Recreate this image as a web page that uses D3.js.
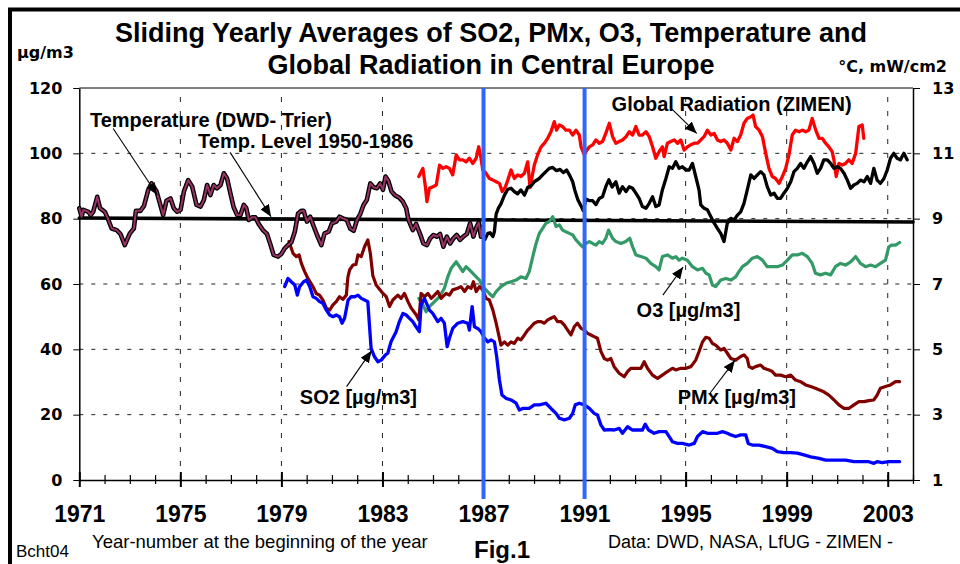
<!DOCTYPE html>
<html lang="en">
<head>
<meta charset="UTF-8">
<title>Sliding Yearly Averages of SO2, PMx, O3, Temperature and Global Radiation</title>
<script src="https://cdn.jsdelivr.net/npm/d3@7"></script>
<style>
  body { margin: 0; background: #fff; }
  svg { display: block; font-family: 'Liberation Sans', Arial, sans-serif; }
  .wide { font-family: 'DejaVu Sans', Verdana, sans-serif; font-weight: bold; font-size: 16px; }
  .note { font-weight: bold; font-size: 20px; }
  .axis path, .axis line { stroke: #000; }
</style>
</head>
<body>
<svg id="chart" width="960" height="564"></svg>
<script>
// temperature (°C, right axis), DWD Trier until 1987
const tempEarly = [[1971.0,9.32],[1971.09,9.06],[1971.16,9.27],[1971.36,9.21],[1971.45,9.11],[1971.55,9.21],[1971.71,9.67],[1971.82,9.32],[1972.01,9.21],[1972.11,9.04],[1972.28,8.70],[1972.48,8.65],[1972.63,8.53],[1972.80,8.19],[1973.00,8.55],[1973.16,8.70],[1973.24,9.24],[1973.42,9.24],[1973.56,9.39],[1973.73,9.88],[1973.86,10.08],[1974.06,9.83],[1974.32,9.11],[1974.45,9.55],[1974.61,9.62],[1974.74,9.32],[1974.87,9.21],[1975.01,9.27],[1975.14,9.83],[1975.31,10.18],[1975.47,9.98],[1975.64,9.42],[1975.80,9.37],[1975.93,9.57],[1976.06,10.03],[1976.19,9.72],[1976.32,10.03],[1976.45,9.93],[1976.59,10.03],[1976.72,10.39],[1976.85,10.23],[1976.98,9.78],[1977.11,9.35],[1977.25,9.11],[1977.38,9.11],[1977.51,9.42],[1977.61,9.32],[1977.71,8.96],[1977.84,9.04],[1977.97,9.04],[1978.10,8.84],[1978.27,8.65],[1978.43,8.53],[1978.56,8.22],[1978.69,7.89],[1978.87,7.84],[1979.00,7.92],[1979.13,8.09],[1979.26,8.19],[1979.39,8.27],[1979.53,8.60],[1979.66,9.16],[1979.79,9.24],[1979.88,9.24],[1980.01,8.91],[1980.14,9.06],[1980.28,8.76],[1980.41,8.50],[1980.58,8.19],[1980.71,8.55],[1980.87,8.60],[1981.00,8.86],[1981.17,8.91],[1981.30,9.06],[1981.43,9.01],[1981.59,8.96],[1981.72,8.70],[1981.86,8.63],[1981.99,8.96],[1982.12,9.14],[1982.25,9.42],[1982.38,9.57],[1982.52,10.08],[1982.65,9.96],[1982.78,9.93],[1982.91,10.08],[1983.02,9.88],[1983.12,10.29],[1983.23,10.16],[1983.36,9.83],[1983.49,9.72],[1983.65,9.65],[1983.81,9.52],[1983.94,9.32],[1984.03,8.96],[1984.20,8.65],[1984.33,8.84],[1984.49,8.53],[1984.62,8.24],[1984.76,8.19],[1984.89,8.40],[1985.02,8.50],[1985.15,8.45],[1985.28,8.53],[1985.41,8.14],[1985.55,8.45],[1985.68,8.24],[1985.81,8.40],[1985.94,8.50],[1986.07,8.35],[1986.20,8.45],[1986.34,8.53],[1986.47,8.86],[1986.60,8.45],[1986.73,8.76],[1986.81,8.88],[1986.90,8.45],[1986.97,8.76]];

// temperature (°C) from 1987 on
const tempLate = [[1987.0,8.40],[1987.06,8.37],[1987.17,8.55],[1987.26,8.57],[1987.37,8.45],[1987.43,8.60],[1987.50,9.14],[1987.59,9.32],[1987.69,9.45],[1987.83,9.72],[1987.96,9.90],[1988.09,9.93],[1988.22,9.83],[1988.35,9.76],[1988.48,9.88],[1988.62,9.72],[1988.75,9.96],[1988.88,10.00],[1989.01,10.13],[1989.21,10.23],[1989.34,10.34],[1989.47,10.44],[1989.60,10.54],[1989.74,10.57],[1989.89,10.47],[1990.03,10.51],[1990.16,10.41],[1990.29,10.49],[1990.42,10.31],[1990.53,10.13],[1990.61,9.88],[1990.73,9.59],[1990.86,9.39],[1990.95,9.24],[1991.05,9.60],[1991.19,9.55],[1991.32,9.55],[1991.45,9.43],[1991.58,9.62],[1991.71,9.67],[1991.84,9.98],[1991.96,10.19],[1992.09,9.97],[1992.24,10.13],[1992.37,9.78],[1992.50,9.98],[1992.64,9.83],[1992.77,9.98],[1992.90,9.93],[1993.03,9.78],[1993.16,9.62],[1993.29,9.37],[1993.43,9.32],[1993.56,9.47],[1993.69,9.67],[1993.82,9.37],[1993.95,9.42],[1994.08,9.88],[1994.22,10.23],[1994.35,10.59],[1994.48,10.54],[1994.61,10.74],[1994.74,10.54],[1994.87,10.59],[1995.01,10.49],[1995.14,10.49],[1995.27,10.69],[1995.40,10.29],[1995.53,9.88],[1995.60,9.42],[1995.73,9.32],[1995.86,9.27],[1996.00,9.06],[1996.13,8.86],[1996.26,8.70],[1996.39,8.55],[1996.52,8.30],[1996.65,8.86],[1996.79,9.01],[1996.92,8.96],[1997.05,9.11],[1997.18,9.21],[1997.31,9.47],[1997.44,9.88],[1997.58,10.34],[1997.71,10.23],[1997.84,10.34],[1997.97,10.44],[1998.10,10.34],[1998.23,9.98],[1998.37,9.72],[1998.50,9.78],[1998.63,9.62],[1998.76,9.62],[1998.89,9.78],[1999.03,9.93],[1999.16,10.13],[1999.29,10.44],[1999.42,10.54],[1999.55,10.69],[1999.68,10.54],[1999.82,10.74],[1999.95,10.90],[2000.08,10.69],[2000.21,10.39],[2000.34,10.54],[2000.47,10.80],[2000.61,10.80],[2000.74,10.69],[2000.87,10.54],[2001.00,10.59],[2001.13,10.54],[2001.27,10.39],[2001.40,10.18],[2001.53,9.93],[2001.66,10.03],[2001.79,10.08],[2001.92,10.18],[2002.06,10.13],[2002.19,10.29],[2002.32,10.08],[2002.45,10.54],[2002.58,10.18],[2002.71,10.08],[2002.85,10.23],[2002.98,10.49],[2003.11,10.85],[2003.24,11.00],[2003.37,10.85],[2003.50,10.80],[2003.64,11.00],[2003.77,10.80]];

// temperature level 1950-1986 (°C)
const tempLevel = [[1971, 9.02], [2004, 8.90]];

// global radiation (mW/cm2, right axis)
const radiation = [[1984.44,10.29],[1984.60,10.54],[1984.70,9.98],[1984.76,9.52],[1984.86,9.93],[1985.00,9.98],[1985.13,10.03],[1985.26,10.64],[1985.39,10.54],[1985.52,10.59],[1985.65,10.54],[1985.78,10.34],[1985.92,10.95],[1986.05,10.80],[1986.18,10.80],[1986.31,10.74],[1986.44,10.85],[1986.57,10.69],[1986.71,10.85],[1986.81,11.20],[1986.90,10.85],[1986.97,10.49],[1987.10,10.39],[1987.23,10.23],[1987.37,10.18],[1987.50,10.13],[1987.63,10.08],[1987.74,9.83],[1987.87,9.98],[1987.96,10.18],[1988.09,10.49],[1988.22,10.23],[1988.35,10.34],[1988.48,10.29],[1988.62,10.39],[1988.75,10.74],[1988.84,9.95],[1989.01,10.64],[1989.14,10.95],[1989.28,11.20],[1989.41,11.31],[1989.54,11.46],[1989.67,11.66],[1989.80,11.97],[1989.89,11.71],[1990.00,11.87],[1990.13,11.82],[1990.26,11.71],[1990.40,11.71],[1990.53,11.56],[1990.66,11.71],[1990.79,11.56],[1990.86,11.20],[1990.99,10.95],[1991.05,11.05],[1991.19,11.20],[1991.32,11.26],[1991.45,11.41],[1991.58,11.31],[1991.71,11.36],[1991.84,11.61],[1991.98,11.92],[1992.11,11.51],[1992.24,11.31],[1992.37,11.36],[1992.50,11.41],[1992.64,11.51],[1992.77,11.66],[1992.90,11.56],[1993.03,11.82],[1993.16,11.56],[1993.29,11.56],[1993.43,11.66],[1993.56,11.51],[1993.69,11.20],[1993.82,10.85],[1993.95,11.05],[1994.08,11.20],[1994.15,10.90],[1994.28,11.31],[1994.41,11.36],[1994.55,11.41],[1994.68,11.31],[1994.81,11.41],[1994.94,11.10],[1995.07,11.20],[1995.20,11.26],[1995.34,11.31],[1995.47,11.31],[1995.60,11.41],[1995.73,11.51],[1995.86,11.71],[1996.00,11.56],[1996.13,11.61],[1996.26,11.41],[1996.39,11.36],[1996.52,11.41],[1996.65,11.31],[1996.79,11.10],[1996.92,11.46],[1997.05,11.36],[1997.18,11.56],[1997.31,11.92],[1997.44,12.07],[1997.58,12.12],[1997.67,12.17],[1997.77,11.82],[1997.91,11.71],[1998.04,11.51],[1998.17,11.00],[1998.30,10.54],[1998.43,10.29],[1998.56,10.23],[1998.70,10.08],[1998.83,10.29],[1998.96,10.54],[1999.09,10.95],[1999.22,11.56],[1999.35,11.71],[1999.49,11.66],[1999.62,11.71],[1999.75,11.66],[1999.88,11.71],[2000.01,12.07],[2000.15,11.71],[2000.28,11.46],[2000.41,11.46],[2000.54,11.31],[2000.67,11.20],[2000.80,11.05],[2000.87,10.80],[2000.96,10.29],[2001.07,10.69],[2001.20,10.64],[2001.33,10.69],[2001.46,10.80],[2001.59,10.69],[2001.73,11.00],[2001.86,11.82],[2001.99,11.87],[2002.05,11.46]];

// O3 (µg/m3, left axis)
const o3 = [[1984.44,55.6],[1984.60,53.6],[1984.73,51.5],[1984.86,53.1],[1985.06,54.6],[1985.26,56.1],[1985.45,58.7],[1985.60,62.5],[1985.72,64.8],[1985.92,66.8],[1986.05,65.3],[1986.18,63.8],[1986.31,65.3],[1986.44,64.3],[1986.57,63.3],[1986.71,62.2],[1986.84,61.2],[1986.97,59.2],[1987.10,58.2],[1987.23,57.1],[1987.37,56.1],[1987.50,57.7],[1987.69,59.2],[1987.89,60.2],[1988.09,60.7],[1988.29,61.2],[1988.48,62.2],[1988.68,61.7],[1988.81,63.8],[1988.95,68.4],[1989.08,72.4],[1989.21,75.5],[1989.34,77.0],[1989.47,78.6],[1989.60,79.1],[1989.74,80.6],[1989.87,77.6],[1990.00,78.1],[1990.13,76.5],[1990.26,76.0],[1990.40,75.5],[1990.53,75.0],[1990.66,73.5],[1990.79,72.4],[1990.92,71.4],[1991.05,72.4],[1991.19,73.0],[1991.32,72.4],[1991.45,71.9],[1991.58,73.0],[1991.71,72.4],[1991.84,74.0],[1991.95,76.5],[1992.11,74.0],[1992.24,73.0],[1992.44,72.4],[1992.63,73.0],[1992.79,74.0],[1992.90,71.4],[1993.03,68.9],[1993.23,68.4],[1993.43,67.9],[1993.62,66.3],[1993.82,65.3],[1993.95,64.3],[1994.08,68.4],[1994.28,68.9],[1994.48,67.9],[1994.61,68.4],[1994.74,67.3],[1994.87,67.9],[1995.07,67.3],[1995.27,65.3],[1995.47,64.3],[1995.67,64.8],[1995.80,63.3],[1995.93,62.8],[1996.06,59.7],[1996.19,59.2],[1996.39,61.2],[1996.59,61.7],[1996.79,61.2],[1996.98,62.2],[1997.11,63.8],[1997.25,65.3],[1997.44,66.3],[1997.64,67.9],[1997.84,68.4],[1998.04,67.3],[1998.23,65.3],[1998.43,65.3],[1998.63,65.3],[1998.83,65.8],[1999.03,67.3],[1999.22,68.9],[1999.42,68.9],[1999.62,69.4],[1999.82,68.4],[2000.01,66.3],[2000.14,63.3],[2000.34,62.8],[2000.54,63.3],[2000.74,62.8],[2000.93,65.3],[2001.13,66.3],[2001.33,65.8],[2001.53,66.8],[2001.73,68.4],[2001.92,66.3],[2002.12,65.3],[2002.32,65.8],[2002.52,65.3],[2002.71,66.3],[2002.91,67.3],[2003.04,71.4],[2003.15,71.9],[2003.31,71.9],[2003.47,72.7]];

// PMx (µg/m3, left axis)
const pmx = [[1979.30,73.0],[1979.46,69.4],[1979.59,68.4],[1979.70,68.9],[1979.79,66.3],[1979.92,63.8],[1980.05,61.7],[1980.25,59.2],[1980.38,57.1],[1980.51,56.6],[1980.64,55.1],[1980.78,52.6],[1980.91,52.0],[1981.04,53.6],[1981.17,54.6],[1981.30,56.1],[1981.43,55.3],[1981.57,56.6],[1981.63,62.0],[1981.70,64.3],[1981.83,65.8],[1981.95,66.0],[1982.03,68.9],[1982.16,68.4],[1982.29,71.4],[1982.42,73.5],[1982.52,69.4],[1982.62,62.5],[1982.75,59.7],[1983.02,57.1],[1983.15,56.1],[1983.28,53.1],[1983.41,55.1],[1983.61,56.6],[1983.74,55.6],[1983.87,57.1],[1984.01,54.6],[1984.14,52.6],[1984.34,50.5],[1984.44,49.0],[1984.53,57.1],[1984.66,56.1],[1984.80,57.1],[1984.93,55.6],[1985.06,56.6],[1985.19,57.7],[1985.32,55.6],[1985.52,57.1],[1985.65,56.6],[1985.78,58.2],[1985.98,58.7],[1986.11,59.2],[1986.25,57.7],[1986.38,59.2],[1986.51,58.7],[1986.60,60.7],[1986.71,57.7],[1986.84,59.2],[1986.97,58.2],[1987.10,55.6],[1987.23,55.1],[1987.37,52.0],[1987.50,48.0],[1987.69,41.3],[1987.83,42.3],[1987.96,41.3],[1988.09,42.3],[1988.22,41.8],[1988.35,43.4],[1988.48,42.9],[1988.62,44.4],[1988.75,45.9],[1988.88,46.9],[1989.01,48.0],[1989.14,48.5],[1989.28,48.5],[1989.41,48.0],[1989.54,49.0],[1989.67,49.5],[1989.80,50.0],[1989.93,48.5],[1990.07,48.5],[1990.20,47.4],[1990.33,45.9],[1990.46,44.4],[1990.59,46.9],[1990.72,48.0],[1990.86,46.4],[1990.99,45.9],[1991.12,44.9],[1991.25,44.4],[1991.38,43.9],[1991.51,43.4],[1991.65,39.3],[1991.78,37.2],[1991.91,36.7],[1992.04,37.2],[1992.17,34.7],[1992.37,32.7],[1992.57,31.6],[1992.70,33.2],[1992.83,34.2],[1993.03,34.2],[1993.23,34.2],[1993.36,36.2],[1993.49,34.2],[1993.69,32.1],[1993.89,31.1],[1994.08,32.1],[1994.28,33.2],[1994.48,34.2],[1994.61,33.7],[1994.81,34.2],[1995.01,34.2],[1995.21,34.7],[1995.40,36.7],[1995.53,39.3],[1995.67,42.3],[1995.80,43.7],[1995.93,43.4],[1996.06,41.8],[1996.19,41.3],[1996.39,39.8],[1996.52,40.3],[1996.65,38.8],[1996.79,37.2],[1996.98,36.7],[1997.18,37.8],[1997.31,38.3],[1997.44,37.2],[1997.51,34.7],[1997.64,34.2],[1997.77,34.7],[1997.97,35.2],[1998.10,34.2],[1998.30,33.7],[1998.43,33.2],[1998.56,32.1],[1998.76,32.1],[1998.96,31.6],[1999.16,32.1],[1999.35,30.6],[1999.55,30.1],[1999.75,29.1],[1999.95,28.6],[2000.14,28.1],[2000.28,27.6],[2000.47,27.0],[2000.67,26.0],[2000.87,24.5],[2001.07,23.0],[2001.27,21.9],[2001.46,21.9],[2001.66,23.0],[2001.86,24.0],[2002.06,24.0],[2002.25,24.3],[2002.45,24.5],[2002.58,26.0],[2002.71,28.1],[2002.91,28.6],[2003.11,29.1],[2003.31,30.1],[2003.47,30.1]];

// SO2 (µg/m3, left axis)
const so2 = [[1979.13,59.2],[1979.26,61.7],[1979.39,60.7],[1979.53,59.7],[1979.63,56.6],[1979.72,59.2],[1979.88,60.7],[1979.99,61.2],[1980.12,59.2],[1980.25,56.1],[1980.38,55.6],[1980.51,54.6],[1980.64,54.1],[1980.78,52.0],[1980.91,50.5],[1981.04,50.0],[1981.17,50.5],[1981.30,50.0],[1981.40,48.0],[1981.50,49.5],[1981.64,55.1],[1981.76,56.1],[1981.90,56.1],[1982.03,56.6],[1982.16,55.6],[1982.29,55.1],[1982.42,54.6],[1982.49,46.9],[1982.55,40.3],[1982.68,37.8],[1982.82,36.2],[1982.95,36.7],[1983.12,38.3],[1983.21,38.8],[1983.34,42.3],[1983.54,45.4],[1983.67,48.5],[1983.81,51.0],[1983.94,50.5],[1984.07,49.5],[1984.20,48.5],[1984.33,46.9],[1984.46,45.4],[1984.53,53.6],[1984.66,55.6],[1984.86,52.0],[1984.99,51.0],[1985.19,48.5],[1985.32,49.5],[1985.45,48.0],[1985.56,40.8],[1985.65,43.4],[1985.78,46.4],[1985.98,48.0],[1986.18,48.5],[1986.38,48.0],[1986.44,45.9],[1986.55,53.1],[1986.64,46.9],[1986.77,46.4],[1986.90,45.4],[1987.04,43.4],[1987.17,42.3],[1987.30,42.9],[1987.43,42.3],[1987.52,37.8],[1987.63,30.6],[1987.73,26.0],[1987.89,25.0],[1988.09,24.5],[1988.29,23.5],[1988.42,21.4],[1988.55,21.9],[1988.68,21.9],[1988.81,21.9],[1989.01,23.0],[1989.21,23.0],[1989.47,23.5],[1989.67,21.9],[1989.87,20.4],[1990.00,18.9],[1990.20,18.4],[1990.40,18.9],[1990.53,20.4],[1990.63,23.0],[1990.79,23.5],[1990.99,23.0],[1991.19,21.9],[1991.38,20.4],[1991.51,19.9],[1991.65,16.8],[1991.78,15.3],[1991.98,15.4],[1992.17,15.3],[1992.37,15.8],[1992.50,14.3],[1992.70,16.3],[1992.90,15.3],[1993.10,15.3],[1993.29,15.3],[1993.40,17.1],[1993.53,15.3],[1993.75,14.3],[1993.95,14.8],[1994.22,14.8],[1994.35,13.3],[1994.48,11.7],[1994.68,11.2],[1994.87,11.2],[1995.14,10.7],[1995.34,11.2],[1995.47,13.3],[1995.67,14.8],[1995.86,14.3],[1996.06,14.3],[1996.26,14.3],[1996.46,14.8],[1996.65,14.3],[1996.79,13.8],[1996.98,13.3],[1997.18,13.8],[1997.38,13.8],[1997.48,11.2],[1997.64,10.7],[1997.90,10.7],[1998.17,10.2],[1998.43,9.7],[1998.63,8.7],[1998.89,8.4],[1999.16,8.4],[1999.42,8.2],[1999.68,7.7],[1999.95,7.1],[2000.28,6.6],[2000.54,6.1],[2000.93,6.1],[2001.33,6.1],[2001.66,5.6],[2001.99,5.6],[2002.25,5.6],[2002.45,5.1],[2002.58,5.6],[2002.78,5.3],[2003.04,5.6],[2003.47,5.6]];

const leftTicks = [0, 20, 40, 60, 80, 100, 120];
const rightTicks = [1, 3, 5, 7, 9, 11, 13];
const yearTicks = d3.range(1971, 2005);
const yearLabels = [1971, 1975, 1979, 1983, 1987, 1991, 1995, 1999, 2003];
const markYears = [1987, 1991];

// annotations in data units: label start, arrow from, arrow tip (left axis units)
const notes = [
  { text: 'Temperature (DWD- Trier)', at: [1971.42, 108.0], from: [1972.34, 107.6], to: [1974.08, 87.3] },
  { text: 'Temp. Level 1950-1986',    at: [1975.70, 101.6], from: [1976.97, 100.3], to: [1978.59, 80.6] },
  { text: 'Global Radiation (ZIMEN)', at: [1992.07, 113.0], from: [1994.44, 113.7], to: [1995.44, 106.1] },
  { text: 'O3 [µg/m3]',               at: [1993.06, 49.9],  from: [1994.10, 56.6],  to: [1994.90, 65.2] },
  { text: 'PMx [µg/m3]',              at: [1994.69, 23.3],  from: [1995.95, 26.4],  to: [1996.95, 36.6] },
  { text: 'SO2 [µg/m3]',              at: [1979.73, 23.3],  from: [1981.58, 28.6],  to: [1982.57, 39.6] }
];

const svg = d3.select('#chart');
svg.append('rect').attr('width', 960).attr('height', 564).attr('fill', '#fff');

// outer frame (cut at right and bottom like the original)
svg.append('rect').attr('x', 10).attr('y', 9.5).attr('width', 1000).attr('height', 600)
  .attr('fill', 'none').attr('stroke', '#000').attr('stroke-width', 4);

const x = d3.scaleLinear().domain([1971, 2004]).range([79.3, 913]);
const yL = d3.scaleLinear().domain([0, 120]).range([480, 88]);
const yR = d3.scaleLinear().domain([1, 13]).range([480, 88]);

// grid
const grid = svg.append('g').attr('stroke', '#222').attr('stroke-width', 1);
grid.selectAll('.hg').data(leftTicks.filter(d => d > 0 && d < 120)).join('line')
  .attr('x1', x(1971)).attr('x2', x(2004))
  .attr('y1', d => yL(d)).attr('y2', d => yL(d))
  .attr('stroke-dasharray', '4,8');
grid.selectAll('.vg').data(yearLabels.filter(d => d > 1971)).join('line')
  .attr('x1', d => x(d)).attr('x2', d => x(d))
  .attr('y1', yL(0)).attr('y2', yL(120))
  .attr('stroke-dasharray', '5,9');
// top frame of plot
svg.append('line').attr('x1', x(1971)).attr('x2', x(2004)).attr('y1', yL(120)).attr('y2', yL(120))
  .attr('stroke', '#000').attr('stroke-width', 1);

// axes
const axL = svg.append('g').attr('class', 'axis').attr('transform', `translate(${x(1971)},0)`)
  .call(d3.axisLeft(yL).tickValues(leftTicks).tickSize(6).tickSizeOuter(0));
axL.selectAll('text').attr('class', 'wide').attr('x', -17).attr('fill', '#000');
const axR = svg.append('g').attr('class', 'axis').attr('transform', `translate(${x(2004)},0)`)
  .call(d3.axisRight(yR).tickValues(rightTicks).tickSize(7).tickSizeOuter(0));
axR.selectAll('text').attr('class', 'wide').attr('x', 19).attr('fill', '#000');
const axB = svg.append('g').attr('class', 'axis').attr('transform', `translate(0,${yL(0)})`)
  .call(d3.axisBottom(x).tickValues(yearTicks).tickSizeOuter(0)
    .tickFormat(d => yearLabels.includes(d) ? d : ''));
axB.selectAll('.tick line')
  .attr('y1', d => yearLabels.includes(d) ? -8 : -5)
  .attr('y2', d => yearLabels.includes(d) ? 7 : 4)
  .attr('stroke-width', d => yearLabels.includes(d) ? 2 : 1.2);
axB.selectAll('text').attr('y', 41.5).attr('dy', 0).attr('fill', '#000')
  .style('font-weight', 'bold').style('font-size', '23px')
  .style('font-family', "'Liberation Sans', Arial, sans-serif");
svg.selectAll('.axis path.domain').attr('stroke-width', 1.5);
svg.selectAll('.axis text').style('font-weight', 'bold');

// series
const lineL = d3.line().x(d => x(d[0])).y(d => yL(d[1]));
const lineR = d3.line().x(d => x(d[0])).y(d => yR(d[1]));
const plot = svg.append('g').attr('fill', 'none').attr('stroke-linejoin', 'round').attr('stroke-linecap', 'round');

plot.append('path').datum(radiation).attr('d', lineR).attr('stroke', '#ff0000').attr('stroke-width', 3.3);
plot.append('path').datum(tempLevel).attr('d', lineR).attr('stroke', '#000').attr('stroke-width', 3.6);
plot.append('path').datum(o3).attr('d', lineL).attr('stroke', '#339966').attr('stroke-width', 3.2);
plot.append('path').datum(pmx).attr('d', lineL).attr('stroke', '#800000').attr('stroke-width', 3.2);
plot.append('path').datum(so2).attr('d', lineL).attr('stroke', '#0000ff').attr('stroke-width', 3.3);
plot.append('path').datum(tempLate).attr('d', lineR).attr('stroke', '#000').attr('stroke-width', 3.3);
// early temperature: black casing with a plum core
plot.append('path').datum(tempEarly).attr('d', lineR).attr('stroke', '#000').attr('stroke-width', 4.6);
plot.append('path').datum(tempEarly).attr('d', lineR).attr('stroke', '#993366').attr('stroke-width', 2);

// blue year markers
svg.selectAll('.mark').data(markYears).join('line')
  .attr('x1', d => x(d)).attr('x2', d => x(d))
  .attr('y1', yL(120)).attr('y2', yL(0) + 19)
  .attr('stroke', '#3366ff').attr('stroke-width', 4);

// annotations
svg.append('defs').append('marker')
  .attr('id', 'tri').attr('viewBox', '0 0 12 10').attr('refX', 12).attr('refY', 5)
  .attr('markerWidth', 12).attr('markerHeight', 10).attr('markerUnits', 'userSpaceOnUse')
  .attr('orient', 'auto')
  .append('path').attr('d', 'M0,0 L12,5 L0,10 Z').attr('fill', '#000');

const ann = svg.append('g');
ann.selectAll('line').data(notes).join('line')
  .attr('x1', d => x(d.from[0])).attr('y1', d => yL(d.from[1]))
  .attr('x2', d => x(d.to[0])).attr('y2', d => yL(d.to[1]))
  .attr('stroke', '#000').attr('stroke-width', 1.1).attr('marker-end', 'url(#tri)');
ann.selectAll('text').data(notes).join('text')
  .attr('class', 'note')
  .attr('x', d => x(d.at[0])).attr('y', d => yL(d.at[1]))
  .text(d => d.text);

// titles and unit labels
svg.append('text').attr('x', 491).attr('y', 41.5).attr('text-anchor', 'middle')
  .style('font-weight', 'bold').style('font-size', '27px')
  .text('Sliding Yearly Averages of SO2, PMx, O3, Temperature and');
svg.append('text').attr('x', 491).attr('y', 73.5).attr('text-anchor', 'middle')
  .style('font-weight', 'bold').style('font-size', '27px')
  .text('Global Radiation in Central Europe');
svg.append('text').attr('class', 'wide').attr('x', 17).attr('y', 58).text('µg/m3');
svg.append('text').attr('class', 'wide').attr('x', 947).attr('y', 71.5).attr('text-anchor', 'end').text('°C, mW/cm2');

// footer texts
svg.append('text').attr('x', 92).attr('y', 548).style('font-size', '18.5px')
  .text('Year-number at the beginning of the year');
svg.append('text').attr('x', 16).attr('y', 557).style('font-size', '17px').text('Bcht04');
svg.append('text').attr('x', 474).attr('y', 558).style('font-weight', 'bold').style('font-size', '24px').text('Fig.1');
svg.append('text').attr('x', 608).attr('y', 548).style('font-size', '18px').text('Data: DWD, NASA, LfUG - ZIMEN -');
</script>
</body>
</html>
